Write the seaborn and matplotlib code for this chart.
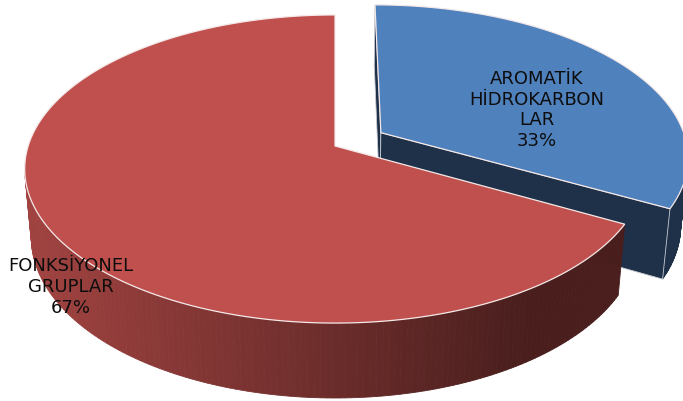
import numpy as np
import matplotlib
matplotlib.use("Agg")
import matplotlib.pyplot as plt
import seaborn as sns
from matplotlib.patches import Polygon

# ---- data ----
categories = ["AROMATİK\nHİDROKARBON\nLAR", "FONKSİYONEL\nGRUPLAR"]
values = [33, 67]
top_colors = ["#4F81BD", "#C0504D"]
explode = [0.176, 0.0]

# ---- style / geometry constants ----
W, H = 683, 401
CX, CY = 335.0, 146.0          # pixel position of the pie centre (top face)
PHI = np.arcsin(0.486)          # camera elevation
DIST = 5.85                     # camera distance (pie radius = 1)
FOC = 1813.0                    # focal length in pixels
XSCALE = 0.99
THICK = 0.255                   # pie thickness
N = 240

sns.set_theme(style="white")
plt.rcParams["font.family"] = ["DejaVu Sans"]

cam = np.array([0.0, DIST * np.sin(PHI), DIST * np.cos(PHI)])


def proj(X, Y, Z):
    X, Y, Z = np.asarray(X, float), np.asarray(Y, float), np.asarray(Z, float)
    depth = DIST - (Z * np.cos(PHI) + Y * np.sin(PHI))
    sx = XSCALE * FOC * X / depth
    sy = FOC * (Y * np.cos(PHI) - Z * np.sin(PHI)) / depth
    return CX + sx, CY - sy


def shade(color, f):
    c = np.array(matplotlib.colors.to_rgb(color))
    return tuple(np.clip(c * f, 0, 1))


def side_factor(x):
    return 0.84 - 0.46 * np.clip((x - 25) / 500.0, 0, 1)


fig = plt.figure(figsize=(W / 100, H / 100), dpi=100)
ax = fig.add_axes([0, 0, 1, 1])
ax.set_xlim(0, W)
ax.set_ylim(H, 0)
ax.axis("off")

total = float(sum(values))
starts = np.concatenate([[0], np.cumsum(values)[:-1]]) / total * 2 * np.pi
ends = np.cumsum(values) / total * 2 * np.pi

# draw far slices first
mids = (starts + ends) / 2
order = np.argsort([np.cos(m) for m in mids])[::-1]

for i in order:
    t0, t1 = starts[i], ends[i]
    mid = (t0 + t1) / 2
    ox, oz = explode[i] * np.sin(mid), -explode[i] * np.cos(mid)
    th = np.linspace(t0, t1, N)
    rx = ox + np.sin(th)
    rz = oz - np.cos(th)
    col = top_colors[i]
    dark = shade(col, 0.38)

    # outer side
    for j in range(N - 1):
        tm = (th[j] + th[j + 1]) / 2
        normal = np.array([np.sin(tm), 0, -np.cos(tm)])
        p = np.array([ox + np.sin(tm), -THICK / 2, oz - np.cos(tm)])
        if normal @ (cam - p) <= 0:
            continue
        xs, ys = proj([rx[j], rx[j + 1], rx[j + 1], rx[j]],
                      [0, 0, -THICK, -THICK],
                      [rz[j], rz[j + 1], rz[j + 1], rz[j]])
        fc = shade(col, side_factor(xs.mean()))
        ax.add_patch(Polygon(np.column_stack([xs, ys]), closed=True,
                             facecolor=fc, edgecolor=fc, linewidth=0.6))

    # radial cut faces
    for ang, sgn in ((t0, -1), (t1, 1)):
        normal = sgn * np.array([np.cos(ang), 0, np.sin(ang)])
        p = np.array([ox + 0.5 * np.sin(ang), -THICK / 2, oz - 0.5 * np.cos(ang)])
        if normal @ (cam - p) <= 1e-6:
            continue
        ex, ez = ox + np.sin(ang), oz - np.cos(ang)
        xs, ys = proj([ox, ex, ex, ox], [0, 0, -THICK, -THICK], [oz, ez, ez, oz])
        ax.add_patch(Polygon(np.column_stack([xs, ys]), closed=True,
                             facecolor=dark, edgecolor="#c8ccd4", linewidth=0.6))

    # top face
    xs, ys = proj(np.concatenate([[ox], rx]), np.zeros(N + 1), np.concatenate([[oz], rz]))
    ax.add_patch(Polygon(np.column_stack([xs, ys]), closed=True,
                         facecolor=col, edgecolor="#f4e8e8", linewidth=0.9))

# ---- labels ----
label_pos = [(537, 110), (71, 287)]
for cat, v, (lx, ly) in zip(categories, values, label_pos):
    pct = f"{v / total * 100:.0f}%"
    ax.text(lx, ly, f"{cat}\n{pct}", ha="center", va="center",
            fontsize=13, color="#0D0D0D", linespacing=1.2)

fig.savefig("out.png", dpi=100)
